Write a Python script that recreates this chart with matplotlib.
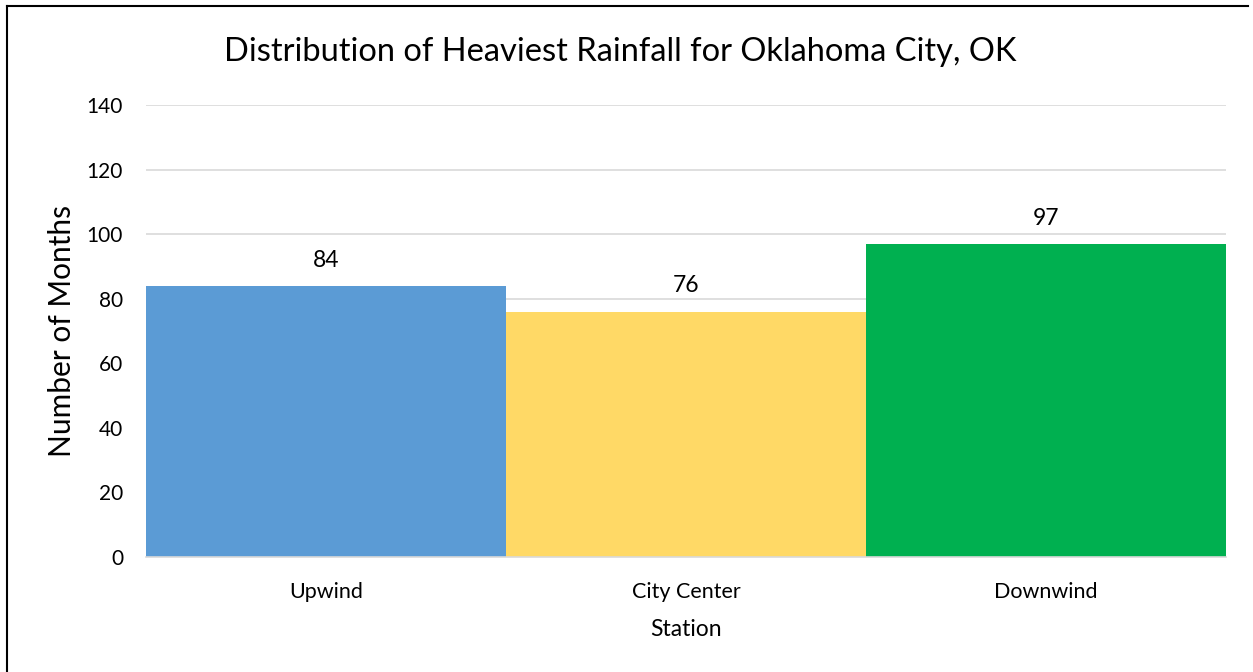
import matplotlib
matplotlib.use("Agg")
import matplotlib.pyplot as plt
from matplotlib.lines import Line2D

categories = ["Upwind", "City Center", "Downwind"]
values = [84, 76, 97]
colors = ["#5B9BD5", "#FFD966", "#00B050"]
yticks = [0, 20, 40, 60, 80, 100, 120, 140]

plt.rcParams['font.family'] = ['Lato', 'DejaVu Sans']

fig = plt.figure(figsize=(12.53, 6.72), dpi=100)
ax = fig.add_axes([146/1253, 1-557/672, (1226-146)/1253, (557-105)/672])

x = list(range(len(categories)))
bars = ax.bar(x, values, width=1.0, color=colors, zorder=2)
for xi, v in zip(x, values):
    ax.annotate(str(v), (xi, v), xytext=(0, 18.5), textcoords="offset points",
                ha="center", va="center", fontsize=16.5, color="#000000")

ax.set_xlim(-0.5, len(categories) - 0.5)
ax.set_ylim(0, 140)
ax.set_yticks(yticks)
ax.set_yticklabels([str(t) for t in yticks], fontsize=15)
ax.set_xticks(x)
ax.set_xticklabels(categories, fontsize=15.5)
ax.tick_params(axis='both', length=0)
ax.tick_params(axis='y', pad=16.5)
ax.tick_params(axis='x', pad=18)
ax.grid(axis='y', color='#D9D9D9', linewidth=1.2, zorder=0)
for s in ['top', 'right', 'left']:
    ax.spines[s].set_visible(False)
ax.spines['bottom'].set_color('#D9D9D9')
ax.spines['bottom'].set_linewidth(1.2)

ax.set_xlabel("Station", fontsize=16.5)
ax.xaxis.set_label_coords(0.5, (557-629)/452)
ax.xaxis.label.set_va('center')
ax.set_ylabel("Number of Months", fontsize=21.5)
ax.yaxis.set_label_coords((62-146)/1080, 0.5)
ax.yaxis.label.set_va('center')

fig.text(620/1253, 1-61/672, "Distribution of Heaviest Rainfall for Oklahoma City, OK",
         ha="center", va="baseline", fontsize=23.5)

# figure border (left and top visible)
fig.add_artist(Line2D([6.5/1253, 6.5/1253], [0, 1-5.5/672], transform=fig.transFigure, color='black', linewidth=1.5))
fig.add_artist(Line2D([6.5/1253, 1248/1253], [1-5.5/672, 1-5.5/672], transform=fig.transFigure, color='black', linewidth=1.5))

fig.savefig("out.png", dpi=100)
